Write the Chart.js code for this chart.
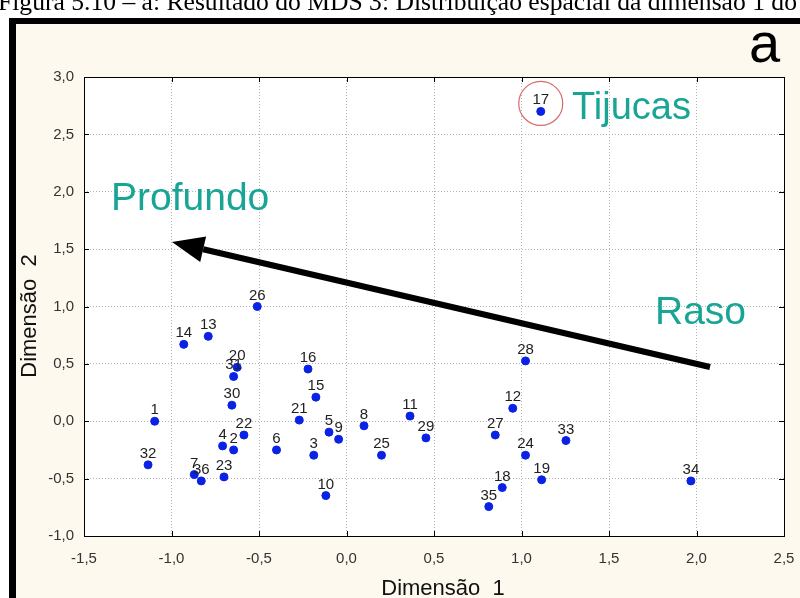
<!DOCTYPE html>
<html>
<head>
<meta charset="utf-8">
<script src="https://cdn.jsdelivr.net/npm/chart.js@4/dist/chart.umd.min.js"></script>
<style>
  html, body { margin: 0; padding: 0; background: #fff; }
  #wrap { width: 800px; height: 598px; }
</style>
</head>
<body>
<div id="wrap"><canvas id="mds" width="800" height="598"></canvas></div>
<script>
// site numbers and MDS coordinates
const sites = ['17','26','14','13','20','31','30','1','32','22','4','2','7','36','23','6','21','16','15','5','9','3','10','8','25','11','29','28','12','27','24','33','19','18','35','34'];
const dim1 = [1.11,-0.51,-0.93,-0.79,-0.625,-0.645,-0.655,-1.096,-1.134,-0.586,-0.708,-0.645,-0.87,-0.83,-0.70,-0.40,-0.27,-0.22,-0.175,-0.10,-0.045,-0.187,-0.118,0.10,0.20,0.363,0.454,1.023,0.95,0.85,1.023,1.254,1.115,0.89,0.813,1.968];
const dim2 = [2.70,1.00,0.67,0.74,0.47,0.39,0.14,0.0,-0.38,-0.12,-0.215,-0.25,-0.465,-0.52,-0.485,-0.25,0.01,0.455,0.21,-0.095,-0.157,-0.296,-0.648,-0.04,-0.296,0.045,-0.145,0.526,0.113,-0.12,-0.296,-0.168,-0.51,-0.578,-0.744,-0.52];
const xTicks = [-1.5,-1.0,-0.5,0.0,0.5,1.0,1.5,2.0,2.5];
const yTicks = [-1.0,-0.5,0.0,0.5,1.0,1.5,2.0,2.5,3.0];

const teal = '#19a595';
const caption = 'Figura 5.10 – a: Resultado do MDS 3: Distribuição espacial da dimensão 1 do';
const fmt = v => v.toFixed(1).replace('.', ',');

const points = dim1.map((x, i) => ({ x: x, y: dim2[i] }));

const decor = {
  id: 'decor',
  beforeDraw(chart) {
    const c = chart.ctx, a = chart.chartArea;
    c.save();
    c.fillStyle = '#ffffff';
    c.fillRect(0, 0, 800, 598);
    // caption cut off at the top of the page
    c.fillStyle = '#000';
    c.font = '20px "Liberation Serif"';
    const size = 20 * 800 / c.measureText(caption).width;
    c.font = size.toFixed(1) + 'px "Liberation Serif"';
    c.textBaseline = 'alphabetic';
    c.fillText(caption, -2, 10);
    // cream panel and black frame
    c.fillStyle = '#fef9ef';
    c.fillRect(16, 24, 784, 574);
    c.fillStyle = '#000';
    c.fillRect(9, 18, 791, 6);
    c.fillRect(9, 18, 7, 580);
    c.fillStyle = '#fff';
    c.fillRect(a.left, a.top, a.right - a.left, a.bottom - a.top);
    c.restore();
  },
  afterDatasetsDraw(chart) {
    const c = chart.ctx, a = chart.chartArea;
    const xs = chart.scales.x, ys = chart.scales.y;
    c.save();
    // frame of plot with inner ticks
    c.strokeStyle = '#000';
    c.lineWidth = 1;
    c.strokeRect(a.left + 0.5, a.top + 0.5, a.right - a.left, a.bottom - a.top);
    c.beginPath();
    xTicks.forEach(v => {
      const px = Math.round(xs.getPixelForValue(v)) + 0.5;
      c.moveTo(px, a.bottom); c.lineTo(px, a.bottom - 5);
      c.moveTo(px, a.top); c.lineTo(px, a.top + 5);
    });
    yTicks.forEach(v => {
      const py = Math.round(ys.getPixelForValue(v)) + 0.5;
      c.moveTo(a.left, py); c.lineTo(a.left + 5, py);
      c.moveTo(a.right, py); c.lineTo(a.right - 5, py);
    });
    c.stroke();
    // site labels
    c.fillStyle = '#222';
    c.font = '15px "Liberation Sans"';
    c.textAlign = 'center';
    c.textBaseline = 'alphabetic';
    sites.forEach((s, i) => {
      c.fillText(s, xs.getPixelForValue(dim1[i]), ys.getPixelForValue(dim2[i]) - 7);
    });
    // circle around 17
    c.strokeStyle = '#d86a6a';
    c.lineWidth = 1.2;
    c.beginPath();
    c.arc(xs.getPixelForValue(dim1[0]), ys.getPixelForValue(dim2[0]) - 8, 22, 0, Math.PI * 2);
    c.stroke();
    // arrow Raso -> Profundo
    const x0 = 710, y0 = 367, x1 = 172, y1 = 242;
    const ang = Math.atan2(y1 - y0, x1 - x0);
    const hl = 32, hw = 13;
    const bx = x1 - hl * Math.cos(ang), by = y1 - hl * Math.sin(ang);
    c.strokeStyle = '#000';
    c.lineWidth = 6;
    c.beginPath();
    c.moveTo(x0, y0);
    c.lineTo(bx, by);
    c.stroke();
    c.fillStyle = '#000';
    c.beginPath();
    c.moveTo(x1, y1);
    c.lineTo(bx + hw * Math.sin(ang), by - hw * Math.cos(ang));
    c.lineTo(bx - hw * Math.sin(ang), by + hw * Math.cos(ang));
    c.closePath();
    c.fill();
    // annotations
    c.fillStyle = teal;
    c.font = '39px "Liberation Sans"';
    c.textAlign = 'left';
    c.fillText('Profundo', 111, 210);
    c.fillText('Raso', 655, 324);
    c.font = '38px "Liberation Sans"';
    c.fillText('Tijucas', 572, 119);
    c.fillStyle = '#000';
    c.font = '56px "Liberation Sans"';
    c.fillText('a', 749, 62);
    // axis titles
    c.fillStyle = '#111';
    c.font = '22px "Liberation Sans"';
    c.textAlign = 'center';
    c.fillText('Dimensão  1', 443, 595);
    c.translate(36, 316);
    c.rotate(-Math.PI / 2);
    c.fillText('Dimensão  2', 0, 0);
    c.restore();
  }
};

new Chart(document.getElementById('mds'), {
  type: 'scatter',
  data: {
    datasets: [{
      data: points,
      backgroundColor: '#0a22e6',
      borderColor: '#0a22e6',
      pointRadius: 4,
      pointHoverRadius: 4
    }]
  },
  options: {
    responsive: false,
    animation: false,
    layout: { padding: { top: 77, right: 16, left: 0, bottom: 0 } },
    plugins: { legend: { display: false }, tooltip: { enabled: false } },
    scales: {
      x: {
        min: -1.5, max: 2.5,
        afterFit: s => { s.height = 62; s.paddingLeft = 0; s.paddingRight = 0; },
        afterBuildTicks: s => { s.ticks = xTicks.map(v => ({ value: v })); },
        ticks: { callback: v => fmt(v), color: '#333', font: { size: 15, family: 'Liberation Sans' }, padding: 14, maxRotation: 0 },
        grid: { color: '#b4b4b4', lineWidth: 1, drawTicks: false },
        border: { display: false, dash: [1, 2] }
      },
      y: {
        min: -1.0, max: 3.0,
        afterFit: s => { s.width = 84; s.paddingTop = 0; s.paddingBottom = 0; },
        afterBuildTicks: s => { s.ticks = yTicks.map(v => ({ value: v })); },
        ticks: { callback: v => fmt(v), color: '#333', font: { size: 15, family: 'Liberation Sans' }, padding: 10 },
        grid: { color: '#b4b4b4', lineWidth: 1, drawTicks: false },
        border: { display: false, dash: [1, 2] }
      }
    }
  },
  plugins: [decor]
});
</script>
</body>
</html>
